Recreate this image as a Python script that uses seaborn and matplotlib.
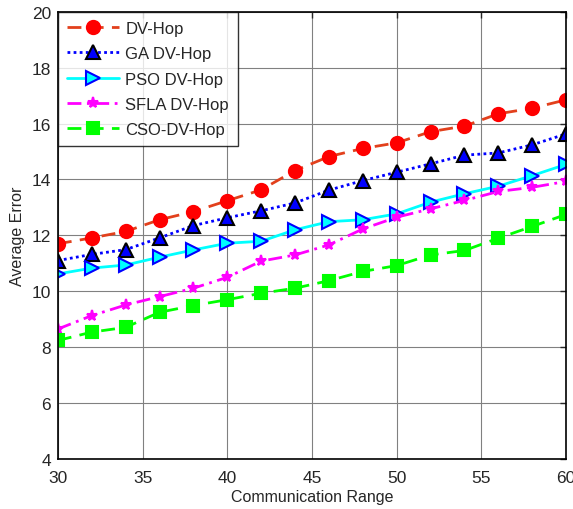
import numpy as np
import pandas as pd
import matplotlib
matplotlib.use("Agg")
import matplotlib.pyplot as plt
import seaborn as sns

# ------------------------------------------------------------
# data
# ------------------------------------------------------------
comm_range = [30, 32, 34, 36, 38, 40, 42, 44, 46, 48, 50, 52, 54, 56, 58, 60]

dv_hop = [11.70, 11.91, 12.14, 12.56, 12.85, 13.24, 13.63, 14.32,
          14.82, 15.11, 15.31, 15.71, 15.91, 16.35, 16.55, 16.85]
ga_dv_hop = [11.10, 11.32, 11.49, 11.91, 12.35, 12.63, 12.88, 13.16,
             13.62, 13.96, 14.26, 14.56, 14.87, 14.95, 15.24, 15.63]
pso_dv_hop = [10.62, 10.83, 10.94, 11.22, 11.48, 11.72, 11.79, 12.20,
              12.49, 12.56, 12.77, 13.19, 13.49, 13.76, 14.14, 14.54]
sfla_dv_hop = [8.65, 9.13, 9.51, 9.81, 10.11, 10.50, 11.08, 11.30,
               11.66, 12.23, 12.65, 12.95, 13.25, 13.57, 13.72, 13.93]
cso_dv_hop = [8.24, 8.54, 8.71, 9.25, 9.49, 9.70, 9.93, 10.11,
              10.38, 10.71, 10.92, 11.30, 11.46, 11.90, 12.32, 12.75]

series_names = ["DV-Hop", "GA DV-Hop", "PSO DV-Hop", "SFLA DV-Hop", "CSO-DV-Hop"]
series_vals = [dv_hop, ga_dv_hop, pso_dv_hop, sfla_dv_hop, cso_dv_hop]

x_ticks = [30, 35, 40, 45, 50, 55, 60]
y_ticks = [4, 6, 8, 10, 12, 14, 16, 18, 20]

# ------------------------------------------------------------
# styles (matlab-ish)
# ------------------------------------------------------------
styles = {
    "DV-Hop":      dict(color="#e2401c", ls=(0, (5, 3)), marker="o", mfc="#ff0000", mec="#ff0000", ms=9.5),
    "GA DV-Hop":   dict(color="#0000ff", ls=(0, (1, 1.2)), marker="^", mfc="#0000ff", mec="black", ms=10),
    "PSO DV-Hop":  dict(color="#00ffff", ls="-", marker=">", mfc="#00ffff", mec="#0000ff", ms=10),
    "SFLA DV-Hop": dict(color="#ff00ff", ls=(0, (5, 2, 1, 2)), marker="*", mfc="#ff00ff", mec="#ff00ff", ms=8),
    "CSO-DV-Hop":  dict(color="#00ff00", ls=(0, (5, 3)), marker="s", mfc="#00ff00", mec="#00ff00", ms=9),
}

sns.set_style("white")
plt.rcParams["font.family"] = ["Liberation Sans", "DejaVu Sans"]

fig = plt.figure(figsize=(5.73, 5.10), dpi=100)
ax = fig.add_axes([0.101, 0.098, 0.887, 0.877])

for name, vals in zip(series_names, series_vals):
    st = styles[name]
    df = pd.DataFrame({"x": comm_range, "y": vals})
    sns.lineplot(data=df, x="x", y="y", ax=ax, color=st["color"], linestyle=st["ls"],
                 linewidth=2, marker=st["marker"], markersize=st["ms"],
                 markerfacecolor=st["mfc"], markeredgecolor=st["mec"],
                 markeredgewidth=1.5, label=name)

ax.set_xlim(30, 60)
ax.set_ylim(4, 20)
ax.set_xticks(x_ticks)
ax.set_yticks(y_ticks)
ax.grid(True, color="#808080", linewidth=0.8)
ax.set_axisbelow(True)
ax.tick_params(direction="in", length=4, top=True, right=True, labelsize=12.5, width=1, pad=5)
ax.tick_params(axis="x", pad=8)
for sp in ax.spines.values():
    sp.set_color("black")
    sp.set_linewidth(1.2)

ax.set_xlabel("Communication Range", fontsize=11.5, labelpad=3)
ax.set_ylabel("Average Error", fontsize=11.5, labelpad=5)

leg = ax.legend(loc="upper left", fontsize=12, frameon=True, fancybox=False,
                edgecolor="black", borderaxespad=0, handlelength=3.1,
                labelspacing=0.62, borderpad=0.55, handletextpad=0.4)
leg.get_frame().set_linewidth(1.0)

fig.savefig("out.png", dpi=100)
